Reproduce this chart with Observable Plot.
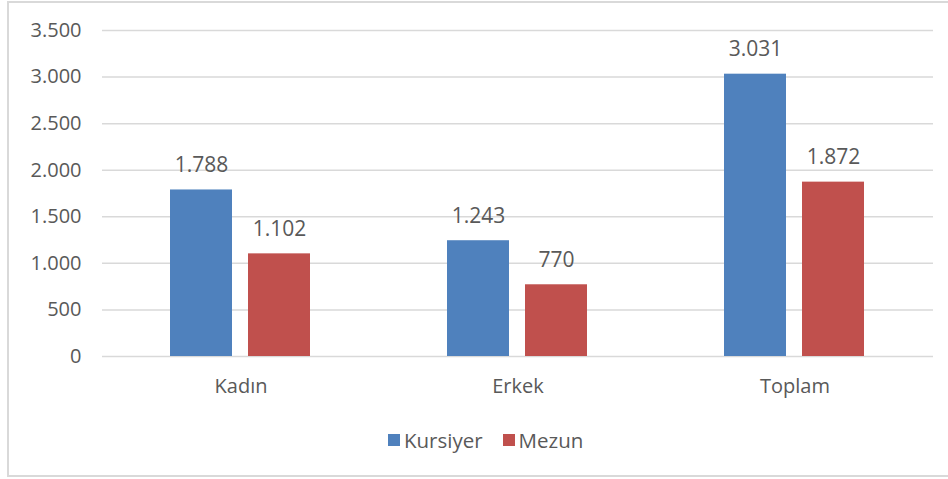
<!DOCTYPE html>
<html>
<head>
<meta charset="utf-8">
<script src="https://cdn.jsdelivr.net/npm/d3@7"></script>
<script src="https://cdn.jsdelivr.net/npm/@observablehq/plot@0.6"></script>
<style>
  html, body { margin: 0; padding: 0; background: #fff; }
  body { width: 948px; height: 479px; position: relative; overflow: hidden; font-family: "Open Sans", sans-serif; }
  #frame { position: absolute; left: 7px; top: 1px; width: 960px; height: 476px; border: 2px solid #d9d9d9; box-sizing: border-box; pointer-events: none; }
  #chart { position: absolute; left: 0; top: 0; }
  #legend { position: absolute; left: 388px; top: 426px; display: flex; align-items: center; font-size: 20.5px; color: #595959; }
  .item { display: flex; align-items: center; margin-right: 20px; }
  .sw { width: 12px; height: 12px; margin-right: 4px; }
</style>
</head>
<body>
<div id="chart"></div>
<div id="legend"></div>
<div id="frame"></div>
<script>
const categories = ["Kadın", "Erkek", "Toplam"];
const series = ["Kursiyer", "Mezun"];
const kursiyer = [1788, 1243, 3031];
const mezun = [1102, 770, 1872];
const yTicks = [0, 500, 1000, 1500, 2000, 2500, 3000, 3500];
const colors = ["#4F81BD", "#C0504D"];

const trFormat = d3.formatLocale({decimal: ",", thousands: ".", grouping: [3], currency: ["₺", ""]}).format(",d");

const data = [];
categories.forEach((c, i) => {
  data.push({cat: c, series: series[0], value: kursiyer[i]});
  data.push({cat: c, series: series[1], value: mezun[i]});
});

const plot = Plot.plot({
  width: 948,
  height: 410,
  marginLeft: 101,
  marginRight: 15,
  marginTop: 30,
  marginBottom: 54,
  style: {fontFamily: "Open Sans, sans-serif", color: "#595959", background: "transparent"},
  fx: {domain: categories, padding: 0, label: null},
  x: {domain: series, paddingInner: 0.205, paddingOuter: 0.878, axis: null},
  y: {domain: [0, 3500], label: null},
  color: {domain: series, range: colors},
  marks: [
    Plot.gridY(yTicks, {stroke: "#d9d9d9", strokeOpacity: 1, strokeWidth: 1.5}),
    Plot.axisY(yTicks, {tickSize: 0, tickPadding: 21, tickFormat: trFormat, fontSize: 20, fill: "#595959", label: null}),
    Plot.axisFx({anchor: "bottom", tickSize: 0, tickPadding: 22, fontSize: 20, fill: "#595959", label: null}),
    Plot.barY(data, {fx: "cat", x: "series", y: "value", fill: "series"}),
    Plot.text(data, {fx: "cat", x: "series", y: "value", text: d => trFormat(d.value), lineAnchor: "bottom", dy: -18, fontSize: 21, fill: "#595959"})
  ]
});
document.getElementById("chart").appendChild(plot);

const legend = document.getElementById("legend");
series.forEach((s, i) => {
  const item = document.createElement("div");
  item.className = "item";
  const sw = document.createElement("div");
  sw.className = "sw";
  sw.style.background = colors[i];
  const label = document.createElement("span");
  label.textContent = s;
  item.appendChild(sw);
  item.appendChild(label);
  legend.appendChild(item);
});
</script>
</body>
</html>
